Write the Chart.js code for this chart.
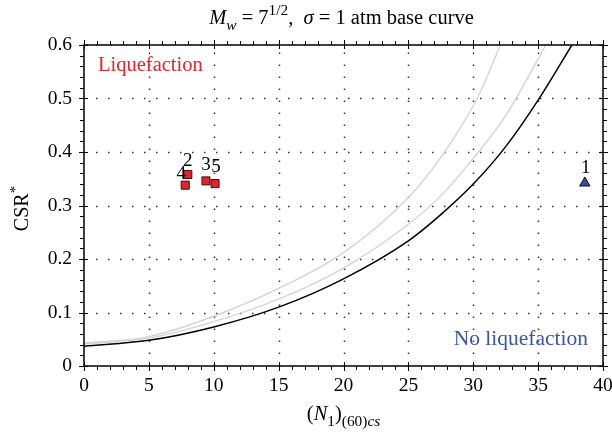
<!DOCTYPE html>
<html>
<head>
<meta charset="utf-8">
<style>
  body { margin: 0; background: #fff; }
</style>
</head>
<body>
<canvas id="csrChart" width="612" height="437"></canvas>

<script src="https://cdn.jsdelivr.net/npm/chart.js"></script>
<script>
  // base curves
  const blackN   = [0, 5, 10, 15, 20, 25, 27.5, 30, 32.5, 35, 37.6];
  const blackCSR = [0.037, 0.048, 0.073, 0.110, 0.163, 0.234, 0.283, 0.340, 0.41, 0.497, 0.60];
  const midN     = [0, 5, 10, 15, 20, 25, 27.5, 30, 32.5, 35.6];
  const midCSR   = [0.041, 0.052, 0.083, 0.125, 0.183, 0.265, 0.318, 0.388, 0.468, 0.60];
  const upN      = [0, 5, 10, 15, 20, 25, 27.5, 30.3, 32.1];
  const upCSR    = [0.043, 0.055, 0.093, 0.145, 0.212, 0.315, 0.39, 0.50, 0.60];

  // sites
  const squareIds = ['2', '3', '4', '5'];
  const squareN   = [8.0, 9.4, 7.8, 10.1];
  const squareCSR = [0.358, 0.346, 0.338, 0.341];
  const triIds    = ['1'];
  const triN      = [38.6];
  const triCSR    = [0.342];

  const xTicks = [0, 5, 10, 15, 20, 25, 30, 35, 40];
  const yTicks = [0, 0.1, 0.2, 0.3, 0.4, 0.5, 0.6];

  const SERIF = '"Liberation Serif", "DejaVu Serif", serif';

  function pts(xs, ys) {
    return xs.map((x, i) => ({ x: x, y: ys[i] }));
  }

  // draws text made of parts (italic / sub / sup)
  function drawRich(ctx, parts, x, y, size) {
    const fontOf = p => (p.i ? 'italic ' : '') + (p.sub || p.sup ? size * 0.75 : size) + 'px ' + SERIF;
    let total = 0;
    parts.forEach(p => { ctx.font = fontOf(p); total += ctx.measureText(p.t).width; });
    let cx = x - total / 2;
    ctx.textAlign = 'left';
    ctx.textBaseline = 'alphabetic';
    parts.forEach(p => {
      ctx.font = fontOf(p);
      let dy = 0;
      if (p.sub) dy = size * 0.3;
      if (p.sup) dy = -size * 0.42;
      ctx.fillText(p.t, cx, y + dy);
      cx += ctx.measureText(p.t).width;
    });
  }

  const labelShift = { '1': [1, -15], '2': [0, -13], '3': [0, -16], '4': [-4, -11], '5': [1, -17] };

  const framePlugin = {
    id: 'frame',
    beforeDatasetsDraw(chart) {
      const { ctx, chartArea: a, scales: { x, y } } = chart;
      ctx.save();
      ctx.strokeStyle = '#333';
      ctx.lineWidth = 1.5;
      ctx.setLineDash([1.5, 10.5]);
      xTicks.slice(1, -1).forEach(v => {
        const px = Math.round(x.getPixelForValue(v)) + 0.5;
        ctx.beginPath(); ctx.moveTo(px, a.bottom); ctx.lineTo(px, a.top); ctx.stroke();
      });
      yTicks.slice(1, -1).forEach(v => {
        const py = Math.round(y.getPixelForValue(v)) + 0.5;
        ctx.beginPath(); ctx.moveTo(a.left, py); ctx.lineTo(a.right, py); ctx.stroke();
      });
      ctx.restore();
    },
    afterDatasetsDraw(chart) {
      const { ctx, chartArea: a, scales: { x, y } } = chart;
      ctx.save();
      ctx.strokeStyle = '#000';
      ctx.lineWidth = 1.5;
      ctx.strokeRect(a.left, a.top, a.right - a.left, a.bottom - a.top);
      ctx.lineWidth = 1;
      // x ticks, top and bottom
      for (let v = 0; v <= 40; v += 1) {
        const px = Math.round(x.getPixelForValue(v)) + 0.5;
        const major = v % 5 === 0;
        const out = major ? 5 : 4, inn = major ? 4 : 0;
        ctx.beginPath();
        ctx.moveTo(px, a.bottom - inn); ctx.lineTo(px, a.bottom + out);
        ctx.moveTo(px, a.top + inn); ctx.lineTo(px, a.top - out);
        ctx.stroke();
      }
      // y ticks, left and right
      for (let k = 0; k <= 30; k++) {
        const py = Math.round(y.getPixelForValue(k * 0.02)) + 0.5;
        const major = k % 5 === 0;
        const out = major ? 5 : 4, inn = major ? 4 : 0;
        ctx.beginPath();
        ctx.moveTo(a.left + inn, py); ctx.lineTo(a.left - out, py);
        ctx.moveTo(a.right - inn, py); ctx.lineTo(a.right + out, py);
        ctx.stroke();
      }

      // point labels
      ctx.fillStyle = '#000';
      ctx.font = '19px ' + SERIF;
      ctx.textAlign = 'center';
      ctx.textBaseline = 'middle';
      [[2, squareIds], [3, triIds]].forEach(([di, ids]) => {
        chart.getDatasetMeta(di).data.forEach((el, i) => {
          const s = labelShift[ids[i]];
          ctx.fillText(ids[i], el.x + s[0], el.y + s[1]);
        });
      });

      // region notes
      ctx.font = '20.5px ' + SERIF;
      ctx.textBaseline = 'alphabetic';
      ctx.textAlign = 'left';
      ctx.fillStyle = '#e3262c';
      ctx.fillText('Liquefaction', a.left + 14, a.top + 26);
      ctx.font = '21.5px ' + SERIF;
      ctx.textAlign = 'right';
      ctx.fillStyle = '#3c55a5';
      ctx.fillText('No liquefaction', a.right - 15, a.bottom - 21);

      // title and axis titles
      ctx.fillStyle = '#000';
      const cx = (a.left + a.right) / 2;
      drawRich(ctx, [
        { t: 'M', i: true }, { t: 'w', i: true, sub: true }, { t: ' = 7' }, { t: '1/2', sup: true },
        { t: ',  ' }, { t: 'σ', i: true }, { t: ' = 1 atm base curve' }
      ], cx - 2, 24, 20.5);
      drawRich(ctx, [
        { t: '(' }, { t: 'N', i: true }, { t: '1', sub: true }, { t: ')' },
        { t: '(60)', sub: true }, { t: 'cs', i: true, sub: true }
      ], cx, 420, 20.5);
      ctx.translate(28, (a.top + a.bottom) / 2 + 3);
      ctx.rotate(-Math.PI / 2);
      drawRich(ctx, [{ t: 'CSR' }, { t: '*', sup: true }], 0, 0, 20);
      ctx.restore();
    }
  };

  new Chart(document.getElementById('csrChart'), {
    type: 'scatter',
    data: {
      datasets: [
        {
          data: pts(upN, upCSR), showLine: true, borderColor: '#d4d4d4', borderWidth: 1.4,
          pointRadius: 0, cubicInterpolationMode: 'monotone'
        },
        {
          data: pts(midN, midCSR), showLine: true, borderColor: '#d4d4d4', borderWidth: 1.4,
          pointRadius: 0, cubicInterpolationMode: 'monotone'
        },
        {
          data: pts(squareN, squareCSR), pointStyle: 'rect', pointRadius: 5.7,
          backgroundColor: '#e3232a', borderColor: '#3a1212', borderWidth: 1
        },
        {
          data: pts(triN, triCSR), pointStyle: 'triangle', pointRadius: 6,
          backgroundColor: '#2f4f9e', borderColor: '#111', borderWidth: 1
        },
        {
          data: pts(blackN, blackCSR), showLine: true, borderColor: '#000', borderWidth: 1.5,
          pointRadius: 0, cubicInterpolationMode: 'monotone'
        }
      ]
    },
    options: {
      responsive: false,
      devicePixelRatio: 1,
      animation: false,
      layout: { padding: { top: 45, right: 9, left: 0, bottom: 0 } },
      plugins: { legend: { display: false }, tooltip: { enabled: false } },
      scales: {
        x: {
          type: 'linear', min: 0, max: 40,
          afterFit(s) { s.height = 71; s.paddingLeft = 0; s.paddingRight = 0; },
          afterBuildTicks(s) { s.ticks = xTicks.map(v => ({ value: v })); },
          grid: { display: false, drawTicks: false },
          border: { display: false },
          ticks: { color: '#000', padding: 8, maxRotation: 0, font: { family: SERIF, size: 19.5 } }
        },
        y: {
          type: 'linear', min: 0, max: 0.6,
          afterFit(s) { s.width = 84; s.paddingTop = 0; s.paddingBottom = 0; },
          afterBuildTicks(s) { s.ticks = yTicks.map(v => ({ value: v })); },
          grid: { display: false, drawTicks: false },
          border: { display: false },
          ticks: { color: '#000', padding: 12, font: { family: SERIF, size: 19.5 } }
        }
      }
    },
    plugins: [framePlugin]
  });
</script>
</body>
</html>
